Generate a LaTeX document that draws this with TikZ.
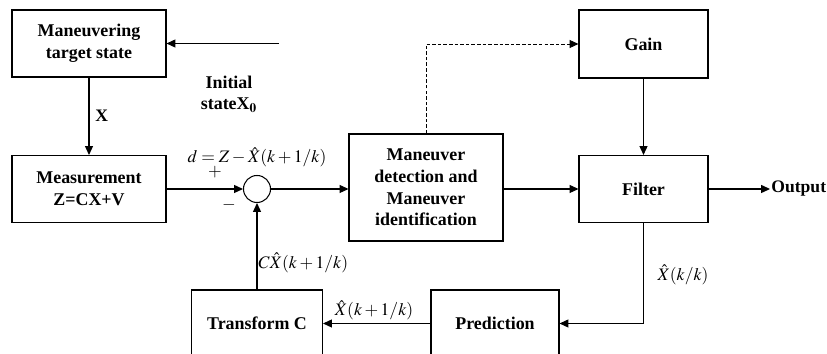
\documentclass[tikz,border=0pt]{standalone}
\usepackage{mathptmx}
\usepackage{fontspec}
\setmainfont{Liberation Serif}
\usepackage{tikz}
\usetikzlibrary{arrows.meta}
\usetikzlibrary{positioning}
\usetikzlibrary{calc}
\tikzset{every picture/.style={line width=0.6pt},
  blockbox/.style={draw,rectangle,align=center,font=\fontsize{10.2}{12.4}\selectfont\bfseries,inner sep=0pt},
  sumcircle/.style={draw,circle,minimum size=0.54cm,inner sep=0pt},
  flow/.style={-{Triangle[length=5pt,width=4.5pt]}},
  lbl/.style={font=\fontsize{10.2}{12}\selectfont\bfseries,align=center}}

\begin{document}
\begin{tikzpicture}
\useasboundingbox (0,0) rectangle (16.54,7.08);
\node[blockbox,minimum width=3.08cm,minimum height=1.34cm] (target) at (1.78,6.21) {Maneuvering\\target state};
\node[blockbox,minimum width=3.08cm,minimum height=1.34cm] (meas) at (1.78,3.3) {Measurement\\Z=CX+V};
\node[sumcircle] (sum) at (5.14,3.3) {};
\node[blockbox,minimum width=3.08cm,minimum height=2.14cm] (detect) at (8.52,3.33) {Maneuver\\detection and\\Maneuver\\identification};
\node[blockbox,minimum width=2.58cm,minimum height=1.36cm] (gain) at (12.87,6.2) {Gain};
\node[blockbox,minimum width=2.58cm,minimum height=1.34cm] (filter) at (12.87,3.3) {Filter};
\node[blockbox,minimum width=2.56cm,minimum height=1.34cm] (pred) at (9.9,0.61) {Prediction};
\node[blockbox,minimum width=2.62cm,minimum height=1.34cm] (trans) at (5.14,0.61) {Transform C};
\node[font=\bfseries,anchor=west,inner sep=0.5pt] (out) at (15.4,3.3) {Output};
\coordinate (init) at (5.58,6.21);

\draw[flow] (init) -- (target.east);
\node[lbl] (initlbl) at (4.58,5.2) {Initial\\stateX$_{\mathbf{0}}$};
\draw[flow] (target.south) -- node[right,font=\bfseries] {X} (meas.north);
\draw[flow] (meas.east) -- (sum.west);
\node (dlbl) at (5.14,3.93) {$d=Z-\hat{X}(k+1/k)$};
\node (plus) at (4.3,3.64) {$+$};
\node (minus) at (4.58,2.98) {$-$};
\draw[flow] (sum.east) -- (detect.west |- sum.east);
\draw[flow,dashed,line width=0.5pt,dash pattern=on 2pt off 1.2pt] (detect.north) |- (gain.west);
\draw[flow] (gain.south) -- (filter.north);
\draw[flow] (detect.east |- filter.west) -- (filter.west);
\draw[flow] (filter.east) -- (out.west);
\draw[flow] (filter.south) |- (pred.east);
\node (kk) at (13.66,1.58) {$\hat{X}(k/k)$};
\draw[flow] (pred.west) -- (trans.east);
\node (predlbl) at (7.48,0.87) {$\hat{X}(k+1/k)$};
\draw[flow] (trans.north) -- (sum.south);
\node[anchor=west,inner sep=0pt] (clbl) at (5.16,1.82) {$C\hat{X}(k+1/k)$};
\end{tikzpicture}
\end{document}
